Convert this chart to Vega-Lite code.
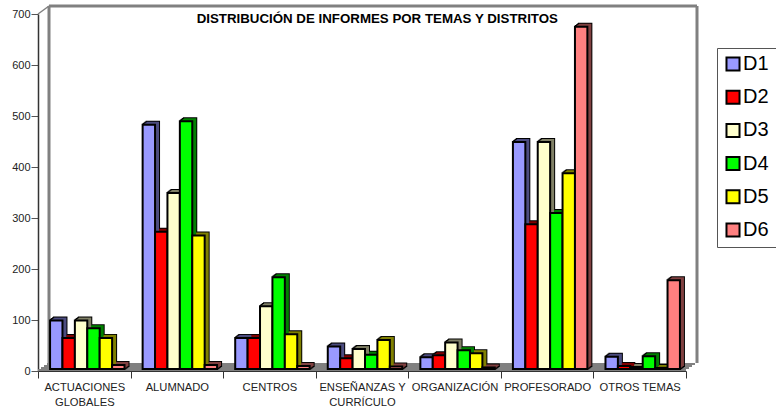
{"$schema":"https://vega.github.io/schema/vega-lite/v6.json","width":648,"height":357,"autosize":"none","padding":{"left":38,"top":14,"right":90,"bottom":43},"background":"white",
"title":{"text":"DISTRIBUCIÓN DE INFORMES POR TEMAS Y DISTRITOS","orient":"top","anchor":"start","offset":0,"dx":185,"dy":21,"font":"Liberation Sans","fontSize":13.3,"fontWeight":"bold","color":"#000000"},
"config":{"view":{"stroke":null}},
"datasets":{"one":[{"k":1}],"rows":[
{"t":"ACTUACIONES GLOBALES","s":"D1","v":95},{"t":"ACTUACIONES GLOBALES","s":"D2","v":61},{"t":"ACTUACIONES GLOBALES","s":"D3","v":95},{"t":"ACTUACIONES GLOBALES","s":"D4","v":80},{"t":"ACTUACIONES GLOBALES","s":"D5","v":61},{"t":"ACTUACIONES GLOBALES","s":"D6","v":8},
{"t":"ALUMNADO","s":"D1","v":479},{"t":"ALUMNADO","s":"D2","v":269},{"t":"ALUMNADO","s":"D3","v":345},{"t":"ALUMNADO","s":"D4","v":486},{"t":"ALUMNADO","s":"D5","v":262},{"t":"ALUMNADO","s":"D6","v":8},
{"t":"CENTROS","s":"D1","v":61},{"t":"CENTROS","s":"D2","v":61},{"t":"CENTROS","s":"D3","v":123},{"t":"CENTROS","s":"D4","v":180},{"t":"CENTROS","s":"D5","v":68},{"t":"CENTROS","s":"D6","v":6},
{"t":"ENSEÑANZAS Y CURRÍCULO","s":"D1","v":44},{"t":"ENSEÑANZAS Y CURRÍCULO","s":"D2","v":21},{"t":"ENSEÑANZAS Y CURRÍCULO","s":"D3","v":39},{"t":"ENSEÑANZAS Y CURRÍCULO","s":"D4","v":28},{"t":"ENSEÑANZAS Y CURRÍCULO","s":"D5","v":57},{"t":"ENSEÑANZAS Y CURRÍCULO","s":"D6","v":5},
{"t":"ORGANIZACIÓN","s":"D1","v":23},{"t":"ORGANIZACIÓN","s":"D2","v":27},{"t":"ORGANIZACIÓN","s":"D3","v":52},{"t":"ORGANIZACIÓN","s":"D4","v":37},{"t":"ORGANIZACIÓN","s":"D5","v":31},{"t":"ORGANIZACIÓN","s":"D6","v":3},
{"t":"PROFESORADO","s":"D1","v":445},{"t":"PROFESORADO","s":"D2","v":284},{"t":"PROFESORADO","s":"D3","v":445},{"t":"PROFESORADO","s":"D4","v":306},{"t":"PROFESORADO","s":"D5","v":384},{"t":"PROFESORADO","s":"D6","v":671},
{"t":"OTROS TEMAS","s":"D1","v":24},{"t":"OTROS TEMAS","s":"D2","v":6},{"t":"OTROS TEMAS","s":"D3","v":4},{"t":"OTROS TEMAS","s":"D4","v":25},{"t":"OTROS TEMAS","s":"D5","v":2},{"t":"OTROS TEMAS","s":"D6","v":174}
]},
"data":{"name":"rows"},
"transform":[{"calculate":"datum.s+'d'","as":"sd"}],
"resolve":{"scale":{"x":"independent","y":"independent"},"axis":{"x":"independent","y":"independent"}},
"layer":[
{"data":{"name":"one"},"mark":{"type":"rect","fill":"#808080"},"encoding":{"x":{"datum":0,"scale":{"domain":[0,1],"range":[0,648]},"axis":null},"x2":{"datum":1},"y":{"datum":0,"scale":{"domain":[0,700],"range":[357,0]},"axis":null},"y2":{"datum":4}}},
{"data":{"name":"one"},"mark":{"type":"rect","fill":"#808080"},"encoding":{"x":{"datum":0,"scale":{"domain":[0,1],"range":[3,651]},"axis":null},"x2":{"datum":1},"y":{"datum":0,"scale":{"domain":[0,700],"range":[355,-2]},"axis":null},"y2":{"datum":4}}},
{"data":{"name":"one"},"mark":{"type":"rect","fill":"#808080"},"encoding":{"x":{"datum":0,"scale":{"domain":[0,1],"range":[6,654]},"axis":null},"x2":{"datum":1},"y":{"datum":0,"scale":{"domain":[0,700],"range":[353,-4]},"axis":null},"y2":{"datum":4}}},
{"data":{"name":"one"},"mark":{"type":"rect","fill":"#808080"},"encoding":{"x":{"datum":0,"scale":{"domain":[0,1],"range":[9,657]},"axis":null},"x2":{"datum":1},"y":{"datum":0,"scale":{"domain":[0,700],"range":[351,-6]},"axis":null},"y2":{"datum":4}}},
{"data":{"name":"one"},"mark":{"type":"rule","color":"#808080","strokeWidth":3},"encoding":{"x":{"datum":0,"scale":{"domain":[0,1],"range":[11,659]},"axis":null},"y":{"datum":0,"scale":{"domain":[0,700],"range":[349,-8]},"axis":null},"y2":{"datum":700}}},
{"data":{"name":"one"},"mark":{"type":"rule","color":"#808080","strokeWidth":3},"encoding":{"x":{"datum":1,"scale":{"domain":[0,1],"range":[11,659]},"axis":null},"y":{"datum":0,"scale":{"domain":[0,700],"range":[349,-8]},"axis":null},"y2":{"datum":700}}},
{"data":{"name":"one"},"mark":{"type":"rule","color":"#808080","strokeWidth":3},"encoding":{"x":{"datum":0,"scale":{"domain":[0,1],"range":[11,659]},"axis":null},"x2":{"datum":1},"y":{"datum":700,"scale":{"domain":[0,700],"range":[349,-8]},"axis":null}}},
{"data":{"name":"one"},"mark":{"type":"rule","color":"#808080","strokeWidth":1.5},"encoding":{"x":{"datum":0,"scale":{"domain":[0,648],"range":[0,648]},"axis":null},"x2":{"datum":11},"y":{"datum":700,"scale":{"domain":[0,700],"range":[357,0]},"axis":null},"y2":{"datum":715.7}}},

{"mark":{"type":"bar","opacity":0},"encoding":{
"x":{"field":"t","type":"nominal","sort":null,"title":null,"scale":{"domain":["ACTUACIONES GLOBALES","ALUMNADO","CENTROS","ENSEÑANZAS Y CURRÍCULO","ORGANIZACIÓN","PROFESORADO","OTROS TEMAS"],"paddingInner":0,"paddingOuter":0,"range":[0,648]},
"axis":{"labelAngle":0,"labelFont":"Liberation Sans","labelFontSize":11.2,"labelColor":"#222222","labelExpr":"datum.label=='ACTUACIONES GLOBALES'?['ACTUACIONES','GLOBALES']:datum.label=='ENSEÑANZAS Y CURRÍCULO'?['ENSEÑANZAS Y','CURRÍCULO']:datum.label","labelLineHeight":15,"labelPadding":3,"tickBand":"extent","tickSize":7,"tickColor":"#333333","domainColor":"#333333","labelLimit":0,"grid":false}},
"y":{"field":"v","type":"quantitative","stack":null,"title":null,"scale":{"domain":[0,700],"nice":false,"range":[357,0]},"axis":{"values":[0,100,200,300,400,500,600,700],"labelFont":"Liberation Sans","labelFontSize":11,"labelColor":"#222222","tickSize":7,"tickColor":"#555555","domainColor":"#333333","domainWidth":1.5,"labelPadding":1,"grid":false}}
}},

{"mark":{"type":"bar","fill":"black","stroke":"black","strokeWidth":2},"encoding":{"x":{"field":"t","type":"nominal","sort":null,"axis":null,"scale":{"domain":["ACTUACIONES GLOBALES","ALUMNADO","CENTROS","ENSEÑANZAS Y CURRÍCULO","ORGANIZACIÓN","PROFESORADO","OTROS TEMAS"],"paddingInner":0,"paddingOuter":0,"range":[4,652]}},"xOffset":{"field":"s","type":"nominal","sort":null,"scale":{"domain":["D1","D2","D3","D4","D5","D6"],"paddingInner":0,"paddingOuter":0.73,"range":[0,92.57]}},"y":{"field":"v","type":"quantitative","stack":null,"axis":null,"scale":{"domain":[0,700],"nice":false,"range":[354.25,-2.75]}}}},
{"mark":{"type":"bar","fill":"black","stroke":"black","strokeWidth":2},"encoding":{"x":{"field":"t","type":"nominal","sort":null,"axis":null,"scale":{"domain":["ACTUACIONES GLOBALES","ALUMNADO","CENTROS","ENSEÑANZAS Y CURRÍCULO","ORGANIZACIÓN","PROFESORADO","OTROS TEMAS"],"paddingInner":0,"paddingOuter":0,"range":[5,653]}},"xOffset":{"field":"s","type":"nominal","sort":null,"scale":{"domain":["D1","D2","D3","D4","D5","D6"],"paddingInner":0,"paddingOuter":0.73,"range":[0,92.57]}},"y":{"field":"v","type":"quantitative","stack":null,"axis":null,"scale":{"domain":[0,700],"nice":false,"range":[353.5,-3.5]}}}},
{"mark":{"type":"bar","fill":"black","stroke":"black","strokeWidth":2},"encoding":{"x":{"field":"t","type":"nominal","sort":null,"axis":null,"scale":{"domain":["ACTUACIONES GLOBALES","ALUMNADO","CENTROS","ENSEÑANZAS Y CURRÍCULO","ORGANIZACIÓN","PROFESORADO","OTROS TEMAS"],"paddingInner":0,"paddingOuter":0,"range":[6,654]}},"xOffset":{"field":"s","type":"nominal","sort":null,"scale":{"domain":["D1","D2","D3","D4","D5","D6"],"paddingInner":0,"paddingOuter":0.73,"range":[0,92.57]}},"y":{"field":"v","type":"quantitative","stack":null,"axis":null,"scale":{"domain":[0,700],"nice":false,"range":[352.75,-4.25]}}}},
{"mark":{"type":"bar","fill":"black","stroke":"black","strokeWidth":2},"encoding":{"x":{"field":"t","type":"nominal","sort":null,"axis":null,"scale":{"domain":["ACTUACIONES GLOBALES","ALUMNADO","CENTROS","ENSEÑANZAS Y CURRÍCULO","ORGANIZACIÓN","PROFESORADO","OTROS TEMAS"],"paddingInner":0,"paddingOuter":0,"range":[7,655]}},"xOffset":{"field":"s","type":"nominal","sort":null,"scale":{"domain":["D1","D2","D3","D4","D5","D6"],"paddingInner":0,"paddingOuter":0.73,"range":[0,92.57]}},"y":{"field":"v","type":"quantitative","stack":null,"axis":null,"scale":{"domain":[0,700],"nice":false,"range":[352,-5]}}}},

{"mark":{"type":"bar"},"encoding":{"fill":{"field":"sd","type":"nominal"},"x":{"field":"t","type":"nominal","sort":null,"axis":null,"scale":{"domain":["ACTUACIONES GLOBALES","ALUMNADO","CENTROS","ENSEÑANZAS Y CURRÍCULO","ORGANIZACIÓN","PROFESORADO","OTROS TEMAS"],"paddingInner":0,"paddingOuter":0,"range":[4,652]}},"xOffset":{"field":"s","type":"nominal","sort":null,"scale":{"domain":["D1","D2","D3","D4","D5","D6"],"paddingInner":0,"paddingOuter":0.73,"range":[0,92.57]}},"y":{"field":"v","type":"quantitative","stack":null,"axis":null,"scale":{"domain":[0,700],"nice":false,"range":[354.25,-2.75]}}}},
{"mark":{"type":"bar"},"encoding":{"fill":{"field":"sd","type":"nominal"},"x":{"field":"t","type":"nominal","sort":null,"axis":null,"scale":{"domain":["ACTUACIONES GLOBALES","ALUMNADO","CENTROS","ENSEÑANZAS Y CURRÍCULO","ORGANIZACIÓN","PROFESORADO","OTROS TEMAS"],"paddingInner":0,"paddingOuter":0,"range":[5,653]}},"xOffset":{"field":"s","type":"nominal","sort":null,"scale":{"domain":["D1","D2","D3","D4","D5","D6"],"paddingInner":0,"paddingOuter":0.73,"range":[0,92.57]}},"y":{"field":"v","type":"quantitative","stack":null,"axis":null,"scale":{"domain":[0,700],"nice":false,"range":[353.5,-3.5]}}}},
{"mark":{"type":"bar"},"encoding":{"fill":{"field":"sd","type":"nominal"},"x":{"field":"t","type":"nominal","sort":null,"axis":null,"scale":{"domain":["ACTUACIONES GLOBALES","ALUMNADO","CENTROS","ENSEÑANZAS Y CURRÍCULO","ORGANIZACIÓN","PROFESORADO","OTROS TEMAS"],"paddingInner":0,"paddingOuter":0,"range":[6,654]}},"xOffset":{"field":"s","type":"nominal","sort":null,"scale":{"domain":["D1","D2","D3","D4","D5","D6"],"paddingInner":0,"paddingOuter":0.73,"range":[0,92.57]}},"y":{"field":"v","type":"quantitative","stack":null,"axis":null,"scale":{"domain":[0,700],"nice":false,"range":[352.75,-4.25]}}}},
{"mark":{"type":"bar"},"encoding":{"fill":{"field":"sd","type":"nominal"},"x":{"field":"t","type":"nominal","sort":null,"axis":null,"scale":{"domain":["ACTUACIONES GLOBALES","ALUMNADO","CENTROS","ENSEÑANZAS Y CURRÍCULO","ORGANIZACIÓN","PROFESORADO","OTROS TEMAS"],"paddingInner":0,"paddingOuter":0,"range":[7,655]}},"xOffset":{"field":"s","type":"nominal","sort":null,"scale":{"domain":["D1","D2","D3","D4","D5","D6"],"paddingInner":0,"paddingOuter":0.73,"range":[0,92.57]}},"y":{"field":"v","type":"quantitative","stack":null,"axis":null,"scale":{"domain":[0,700],"nice":false,"range":[352,-5]}}}},

{"mark":{"type":"bar","stroke":"black","strokeWidth":2},"encoding":{"x":{"field":"t","type":"nominal","sort":null,"axis":null,"scale":{"domain":["ACTUACIONES GLOBALES","ALUMNADO","CENTROS","ENSEÑANZAS Y CURRÍCULO","ORGANIZACIÓN","PROFESORADO","OTROS TEMAS"],"paddingInner":0,"paddingOuter":0,"range":[3,651]}},"xOffset":{"field":"s","type":"nominal","sort":null,"scale":{"domain":["D1","D2","D3","D4","D5","D6"],"paddingInner":0,"paddingOuter":0.73,"range":[0,92.57]}},"y":{"field":"v","type":"quantitative","stack":null,"axis":null,"scale":{"domain":[0,700],"nice":false,"range":[355,-2]}},
"fill":{"field":"s","type":"nominal","scale":{"domain":["D1","D2","D3","D4","D5","D6","D1d","D2d","D3d","D4d","D5d","D6d"],"range":["#9999FF","#FF0000","#FFFFCC","#00FF00","#FFFF00","#FF8080","#4C4C80","#800000","#808066","#008000","#808000","#804040"]},"legend":{"title":" ","titleOrient":"right","titlePadding":20,"values":["D1","D2","D3","D4","D5","D6"],"orient":"none","legendX":679,"legendY":34,"symbolType":"square","symbolSize":170,"symbolStrokeColor":"black","symbolStrokeWidth":2,"labelFont":"Liberation Sans","labelFontSize":20,"labelColor":"#000000","labelOffset":0,"rowPadding":11.2,"strokeColor":"#555555","padding":6,"fillColor":"white"}}}}
]}
